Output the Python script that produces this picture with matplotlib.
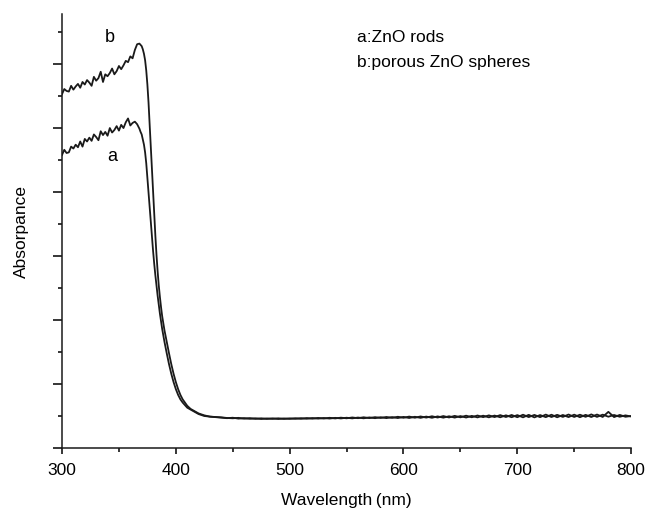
import numpy as np
import matplotlib
matplotlib.use("Agg")
import matplotlib.pyplot as plt
from matplotlib.ticker import MultipleLocator, NullFormatter

plt.rcParams['font.family'] = ['Liberation Sans', 'DejaVu Sans']

# wavelength grids (nm)
wl_plateau = np.arange(300, 369, 2)
wl_tail = np.arange(440, 801, 5)

# curve b: porous ZnO spheres
b_plateau = [0.553, 0.561, 0.558, 0.557, 0.566, 0.560, 0.565, 0.569, 0.563, 0.572,
             0.568, 0.575, 0.571, 0.566, 0.580, 0.574, 0.578, 0.588, 0.572, 0.584,
             0.581, 0.586, 0.593, 0.584, 0.589, 0.597, 0.592, 0.598, 0.605, 0.603,
             0.612, 0.609, 0.622, 0.631, 0.632]
b_edge_wl = [370, 371, 372, 373, 374, 375, 376, 377, 378, 379, 380, 381, 382, 383, 384, 385,
             386, 387, 388,
             390, 392, 394, 396, 398, 400, 402, 404, 406, 408, 410,
             413, 416, 420, 425, 430]
b_edge = [0.628, 0.623, 0.616, 0.606, 0.590, 0.568, 0.540, 0.505, 0.470, 0.435, 0.400, 0.365,
          0.332, 0.302, 0.276, 0.254, 0.236, 0.220, 0.206,
          0.184, 0.166, 0.148, 0.131, 0.116, 0.103, 0.092, 0.083, 0.076, 0.071, 0.066,
          0.061, 0.058, 0.054, 0.051, 0.049]
b_tail = [0.0475, 0.0466, 0.0473, 0.0459, 0.0467, 0.0456, 0.0464, 0.0453, 0.0462, 0.0455,
          0.0464, 0.0454, 0.0463, 0.0456, 0.0466, 0.0457, 0.0468, 0.0459, 0.0469, 0.0460,
          0.0471, 0.0462, 0.0473, 0.0463, 0.0476, 0.0464, 0.0478, 0.0466, 0.0481, 0.0467,
          0.0483, 0.0468, 0.0486, 0.0469, 0.0488, 0.0471, 0.0491, 0.0472, 0.0494, 0.0474,
          0.0496, 0.0475, 0.0499, 0.0476, 0.0502, 0.0478, 0.0505, 0.0479, 0.0507, 0.0480,
          0.0511, 0.0481, 0.0514, 0.0479, 0.0518, 0.0478, 0.0515, 0.0482, 0.0520, 0.0480,
          0.0516, 0.0483, 0.0521, 0.0481, 0.0518, 0.0484, 0.0523, 0.0485, 0.0565, 0.0483,
          0.0517, 0.0488, 0.0500]

# curve a: ZnO rods
a_plateau = [0.458, 0.466, 0.461, 0.462, 0.471, 0.468, 0.474, 0.470, 0.479, 0.471,
             0.483, 0.479, 0.485, 0.480, 0.490, 0.486, 0.481, 0.495, 0.489, 0.494,
             0.488, 0.500, 0.493, 0.497, 0.503, 0.496, 0.505, 0.500, 0.509, 0.515,
             0.504, 0.508, 0.510, 0.506, 0.499]
a_edge_wl = [369, 370, 371, 372, 373, 374, 375, 376, 377, 378, 379, 380, 381, 382, 383, 384,
             386, 388, 390, 392, 394, 396, 398, 400, 402, 404, 406, 408, 410,
             413, 416, 420, 425, 430]
a_edge = [0.494, 0.490, 0.482, 0.474, 0.462, 0.445, 0.422, 0.398, 0.375, 0.352, 0.330, 0.308,
          0.288, 0.270, 0.254, 0.238,
          0.210, 0.186, 0.166, 0.148, 0.131, 0.116, 0.103, 0.092, 0.083, 0.076, 0.071, 0.067, 0.063,
          0.060, 0.057, 0.053, 0.050, 0.049]
a_tail = [0.0479, 0.0469, 0.0464, 0.0471, 0.0458, 0.0467, 0.0455, 0.0464, 0.0454, 0.0463,
          0.0453, 0.0462, 0.0455, 0.0465, 0.0456, 0.0468, 0.0458, 0.0470, 0.0460, 0.0472,
          0.0462, 0.0474, 0.0464, 0.0477, 0.0466, 0.0480, 0.0467, 0.0482, 0.0469, 0.0485,
          0.0470, 0.0488, 0.0472, 0.0491, 0.0473, 0.0493, 0.0475, 0.0496, 0.0476, 0.0499,
          0.0477, 0.0502, 0.0479, 0.0505, 0.0480, 0.0508, 0.0482, 0.0510, 0.0483, 0.0514,
          0.0484, 0.0516, 0.0481, 0.0520, 0.0483, 0.0517, 0.0482, 0.0522, 0.0484, 0.0518,
          0.0486, 0.0523, 0.0485, 0.0520, 0.0487, 0.0525, 0.0486, 0.0521, 0.0489, 0.0516,
          0.0488, 0.0510, 0.0492]

wl_a = np.concatenate([wl_plateau, a_edge_wl, wl_tail])
abs_a = np.concatenate([a_plateau, a_edge, a_tail])
wl_b = np.concatenate([wl_plateau, b_edge_wl, wl_tail])
abs_b = np.concatenate([b_plateau, b_edge, b_tail])

fig = plt.figure(figsize=(6.46, 5.11), dpi=100)
ax = fig.add_axes([0.096, 0.1233, 0.881, 0.849])

ax.plot(wl_a, abs_a, color='#1a1a1a', lw=1.3)
ax.plot(wl_b, abs_b, color='#1a1a1a', lw=1.3)

ax.set_xlim(300, 800)
ax.set_ylim(0, 0.678)
ax.xaxis.set_major_locator(MultipleLocator(100))
ax.xaxis.set_minor_locator(MultipleLocator(50))
ax.yaxis.set_major_locator(MultipleLocator(0.1))
ax.yaxis.set_minor_locator(MultipleLocator(0.05))
ax.yaxis.set_major_formatter(NullFormatter())

ax.spines['top'].set_visible(False)
ax.spines['right'].set_visible(False)
for s in ('left', 'bottom'):
    ax.spines[s].set_linewidth(1.1)
    ax.spines[s].set_color('#1a1a1a')

ax.tick_params(axis='x', which='major', direction='out', length=4.5, width=1.1, labelsize=12.5, pad=6)
ax.tick_params(axis='x', which='minor', direction='out', length=3, width=1.1)
ax.tick_params(axis='y', which='major', direction='out', length=6.5, width=1.1)
ax.tick_params(axis='y', which='minor', direction='out', length=3, width=1.1)

ax.set_xlabel('Wavelength\u2009(nm)', fontsize=12.5, labelpad=11)
ax.set_ylabel('Absorpance', fontsize=12.5, labelpad=14)

ax.text(342, 0.642, 'b', fontsize=13, ha='center', va='center')
ax.text(344, 0.455, 'a', fontsize=13, ha='center', va='center')
ax.text(559, 0.641, 'a:ZnO rods', fontsize=12.5, ha='left', va='center')
ax.text(559, 0.603, 'b:porous ZnO spheres', fontsize=12.5, ha='left', va='center')

fig.savefig('out.png', dpi=100)
